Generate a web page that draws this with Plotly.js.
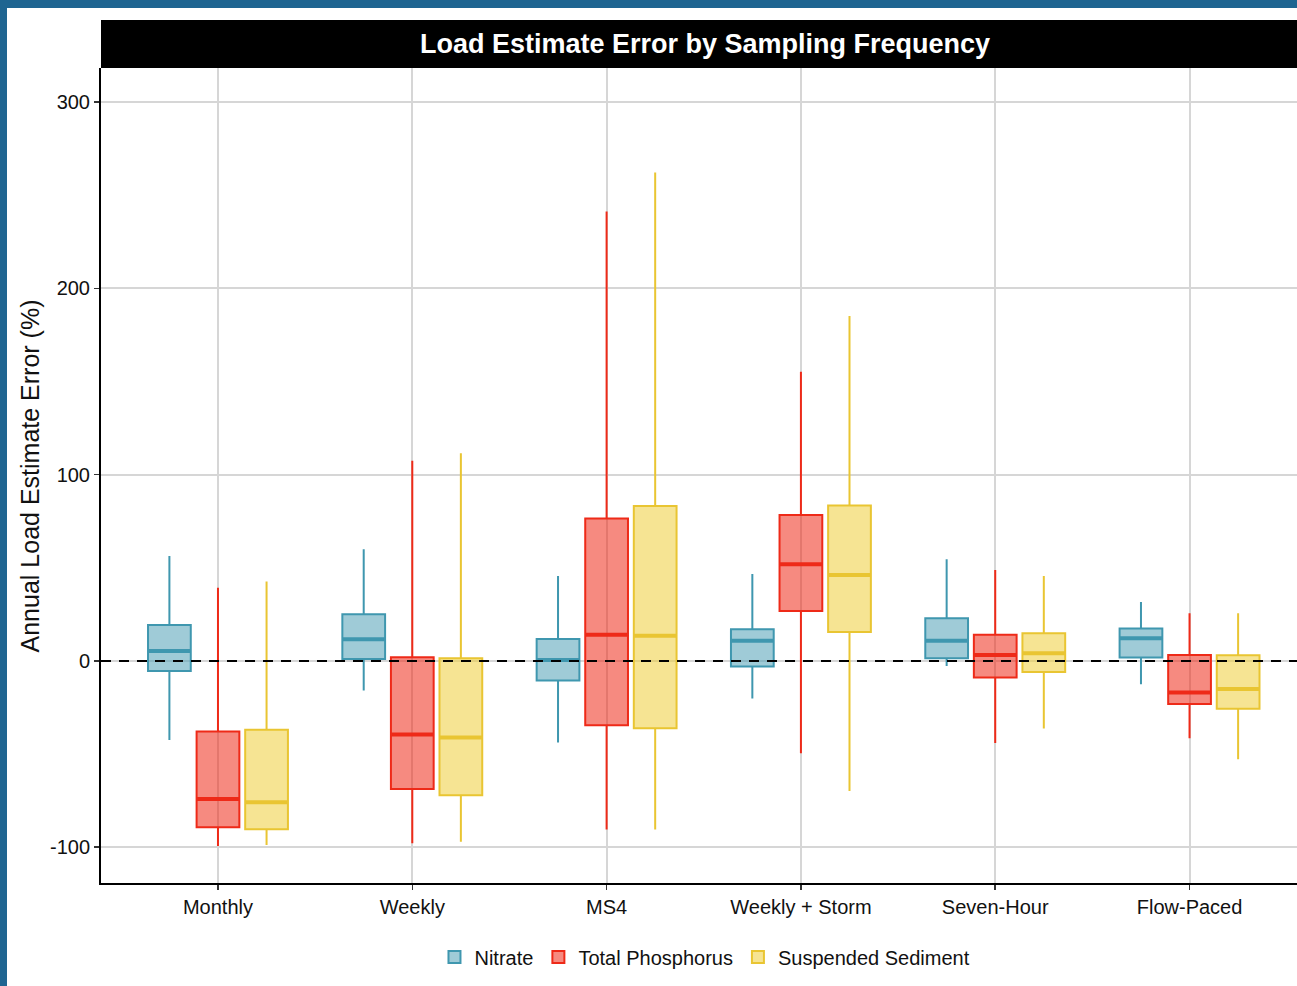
<!DOCTYPE html>
<html>
<head>
<meta charset="utf-8">
<script src="https://cdn.plot.ly/plotly-3.0.1.min.js"></script>
<style>
  html, body { margin: 0; padding: 0; background: #1f6591; overflow: hidden; width: 1297px; height: 986px; }
  #chart { position: absolute; left: 7px; top: 8px; width: 1290px; height: 978px; background: #ffffff; }
</style>
</head>
<body>
<div id="chart"></div>
<script>
// ---- Data ----
const categories = ["Monthly", "Weekly", "MS4", "Weekly + Storm", "Seven-Hour", "Flow-Paced"];
const seriesNames = ["Nitrate", "Total Phosphorus", "Suspended Sediment"];

// Nitrate
const nitrateLow    = [-42.4, -15.9, -43.8, -20.2, -2.7, -12.5];
const nitrateQ1     = [-5.4,    1.1, -10.5,  -3.0,  1.4,   1.8];
const nitrateMedian = [ 5.4,   11.6,   0.5,  10.9, 10.9,  12.2];
const nitrateQ3     = [19.3,   25.1,  11.8,  17.0, 22.9,  17.4];
const nitrateHigh   = [56.4,   60.0,  45.6,  46.7, 54.6,  31.7];

// Total Phosphorus
const tpLow    = [-99.3, -97.9, -90.5, -49.6, -44.0, -41.5];
const tpQ1     = [-89.3, -68.7, -34.5,  26.8,  -8.9, -23.1];
const tpMedian = [-74.1, -39.5,  14.0,  51.9,   3.2, -17.0];
const tpQ3     = [-37.9,   2.0,  76.5,  78.4,  14.0,   3.2];
const tpHigh   = [ 39.3, 107.5, 241.3, 155.3,  48.8,  25.6];

// Suspended Sediment
const ssLow    = [-98.8, -97.0, -90.5, -69.8, -36.3, -52.8];
const ssQ1     = [-90.4, -72.1, -36.1,  15.6,  -5.9, -25.6];
const ssMedian = [-75.8, -41.1,  13.5,  46.2,   4.1, -15.0];
const ssQ3     = [-37.0,   1.4,  83.2,  83.4,  14.9,   3.0];
const ssHigh   = [ 42.6, 111.5, 262.2, 185.2,  45.6,  25.6];

const yTicks = [-100, 0, 100, 200, 300];

// ---- Styling ----
const FONT = "Liberation Sans, Arial, Helvetica, sans-serif";
const lineColors = ["#3f97af", "#ee2a18", "#e9c532"];
const fillColors = ["rgba(63,151,175,0.5)", "rgba(238,42,24,0.55)", "rgba(238,205,58,0.55)"];
const offsets = [-0.25, 0, 0.25];
const boxWidth = 0.22;

const stats = [
  {low: nitrateLow, q1: nitrateQ1, med: nitrateMedian, q3: nitrateQ3, high: nitrateHigh},
  {low: tpLow, q1: tpQ1, med: tpMedian, q3: tpQ3, high: tpHigh},
  {low: ssLow, q1: ssQ1, med: ssMedian, q3: ssQ3, high: ssHigh}
];

const catPos = categories.map((c, i) => i + 1);
const traces = [];
stats.forEach((s, k) => {
  const xs = catPos.map(p => p + offsets[k]);
  traces.push({
    type: "box",
    name: seriesNames[k],
    x: xs,
    q1: s.q1, median: s.med, q3: s.q3,
    lowerfence: s.low, upperfence: s.high,
    width: boxWidth,
    whiskerwidth: 0,
    boxpoints: false,
    line: {color: lineColors[k], width: 2},
    fillcolor: fillColors[k],
    hoverinfo: "skip",
    showlegend: true
  });
});
// thicker median bars (ggplot style)
stats.forEach((s, k) => {
  const mx = [], my = [];
  catPos.forEach((p, i) => {
    const c = p + offsets[k];
    mx.push(c - boxWidth / 2, c + boxWidth / 2, null);
    my.push(s.med[i], s.med[i], null);
  });
  traces.push({
    type: "scatter", mode: "lines", x: mx, y: my,
    line: {color: lineColors[k], width: 4},
    hoverinfo: "skip", showlegend: false
  });
});

const plotH = 815;
const layout = {
  width: 1290, height: 978,
  margin: {l: 94, r: 0, t: 60, b: 103},
  paper_bgcolor: "#ffffff",
  plot_bgcolor: "rgba(0,0,0,0)",
  font: {family: FONT, size: 20, color: "#222"},
  showlegend: true,
  legend: {
    orientation: "h", x: 0.505, xanchor: "center", y: -0.0908, yanchor: "middle",
    font: {family: FONT, size: 20, color: "#111"},
    itemsizing: "constant", tracegroupgap: 0, itemwidth: 30
  },
  xaxis: {
    range: [0.398, 6.553],
    tickmode: "array", tickvals: catPos, ticktext: categories,
    showgrid: true, gridcolor: "#d6d6d6", gridwidth: 2,
    zeroline: false,
    showline: true, linecolor: "#000", linewidth: 2,
    ticks: "outside", ticklen: 5, tickwidth: 1.5, tickcolor: "#333",
    tickfont: {family: FONT, size: 20, color: "#111"},
    fixedrange: true
  },
  yaxis: {
    range: [-119.2, 318.3],
    tickmode: "array", tickvals: yTicks, ticktext: yTicks.map(String),
    showgrid: true, gridcolor: "#d6d6d6", gridwidth: 2,
    zeroline: false,
    showline: true, linecolor: "#000", linewidth: 2,
    ticks: "outside", ticklen: 5, tickwidth: 1.5, tickcolor: "#333",
    tickfont: {family: FONT, size: 20, color: "#111"},
    fixedrange: true
  },
  shapes: [
    {type: "rect", xref: "paper", yref: "paper", x0: 0, x1: 1.01, y0: 1, y1: 1 + 48 / plotH,
     fillcolor: "#000", line: {width: 0}, layer: "above"},
    {type: "line", xref: "paper", yref: "y", x0: 0, x1: 1, y0: 0, y1: 0,
     line: {color: "#000", width: 2, dash: "10px,8px"}, layer: "above"}
  ],
  annotations: [
    {text: "<b>Load Estimate Error by Sampling Frequency</b>", xref: "paper", yref: "paper",
     x: 0.505, y: 1 + 24 / plotH, xanchor: "center", yanchor: "middle", showarrow: false,
     font: {family: FONT, size: 27, color: "#fff"}},
    {text: "Annual Load Estimate Error (%)", xref: "paper", yref: "paper",
     x: -0.0594, y: 0.5, xanchor: "center", yanchor: "middle", textangle: -90, showarrow: false,
     font: {family: FONT, size: 25, color: "#111"}}
  ]
};

Plotly.newPlot("chart", traces, layout, {displayModeBar: false, staticPlot: true});
</script>
</body>
</html>
